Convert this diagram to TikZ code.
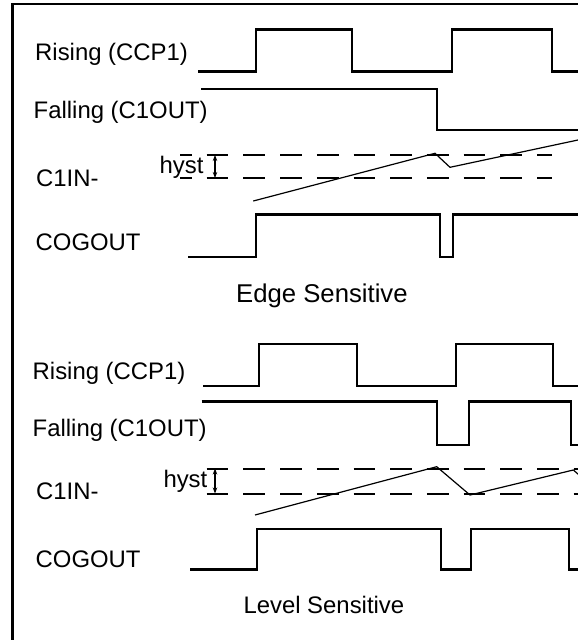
\documentclass[tikz,border=0pt]{standalone}
\usepackage{fontspec}
\setmainfont{Liberation Sans}
\usetikzlibrary{arrows.meta}

\begin{document}
\begin{tikzpicture}[
    x=1pt, y=-1pt,
    sigline/.style={line width=2.1pt, line join=miter},
    rampline/.style={line width=1.2pt},
    hystline/.style={line width=2pt, dash pattern=on 21.7pt off 15pt},
    hystarrow/.style={line width=1.1pt, {Stealth[length=6pt,width=4.5pt]}-{Stealth[length=6pt,width=4.5pt]}},
    lbl/.style={anchor=base west, inner sep=0pt, font=\fontsize{23.9}{28}\selectfont},
    caption/.style={anchor=base west, inner sep=0pt}
  ]
  \useasboundingbox (0,0) rectangle (578,640);
  \clip (0,0) rectangle (578,640);

  %Frame
  \draw[line width=2.6pt] (12.5,700) -- (12.5,3.8) -- (640,3.8);

  %Nodes (edge sensitive)
  \node[lbl] at (35,60) (risE) {Rising (CCP1)};
  \node[lbl] at (33.5,118.5) (falE) {Falling (C1OUT)};
  \node[lbl] at (36,186.5) (cinE) {C1IN-};
  \node[lbl] at (159.5,173.5) (hysE) {hyst};
  \node[lbl] at (35.5,250) (cogE) {COGOUT};
  \node[caption, font=\fontsize{25.7}{30}\selectfont] at (236,302.5) (capE) {Edge Sensitive};

  %Lines (edge sensitive)
  \draw[sigline] (198.3,71.5) -- (256,71.5) -- (256,29.5) -- (352,29.5) -- (352,71.5)
    -- (451.7,71.5) -- (451.7,29.5) -- (552.3,29.5) -- (552.3,71.5) -- (590,71.5);
  \draw[sigline] (201,89) -- (436.7,89) -- (436.7,130) -- (590,130);
  \draw[hystline, dash phase=10pt] (180,155) -- (551.7,155);
  \draw[hystline, dash phase=10pt] (180,178) -- (551.7,178);
  \draw[hystarrow] (215,155) -- (215,178);
  \draw[rampline] (253.3,201) -- (435,153.3) -- (450,167.3) -- (573.3,141) -- (590,137.4);
  \draw[sigline] (188.3,257) -- (255.7,257) -- (255.7,214.5) -- (439.7,214.5) -- (439.7,257)
    -- (453,257) -- (453,214.5) -- (590,214.5);

  %Nodes (level sensitive)
  \node[lbl] at (32.5,379.5) (risL) {Rising (CCP1)};
  \node[lbl] at (32.5,436.5) (falL) {Falling (C1OUT)};
  \node[lbl] at (36,499.5) (cinL) {C1IN-};
  \node[lbl] at (163.3,487.8) (hysL) {hyst};
  \node[lbl] at (35.5,567.5) (cogL) {COGOUT};
  \node[caption, font=\fontsize{23.9}{28}\selectfont] at (243.3,613.3) (capL) {Level Sensitive};

  %Lines (level sensitive)
  \draw[sigline] (203.3,385.7) -- (259.3,385.7) -- (259.3,344) -- (356.7,344) -- (356.7,385.7)
    -- (455.7,385.7) -- (455.7,344) -- (552.7,344) -- (552.7,385.7) -- (590,385.7);
  \draw[sigline] (201.7,401.5) -- (437.3,401.5) -- (437.3,445) -- (469.3,445) -- (469.3,401.5)
    -- (571,401.5) -- (571,445) -- (590,445);
  \draw[hystline] (206.7,468.5) -- (590,468.5);
  \draw[hystline] (206.7,493.5) -- (590,493.5);
  \draw[hystarrow] (215,468.5) -- (215,493.5);
  \draw[rampline] (255,515) -- (436.7,466.7) -- (470,495) -- (573.3,470) -- (585,480);
  \draw[sigline] (190,569.5) -- (256.7,569.5) -- (256.7,529) -- (440.7,529) -- (440.7,569.5)
    -- (470.7,569.5) -- (470.7,529) -- (569,529) -- (569,569.5) -- (590,569.5);

\end{tikzpicture}
\end{document}
